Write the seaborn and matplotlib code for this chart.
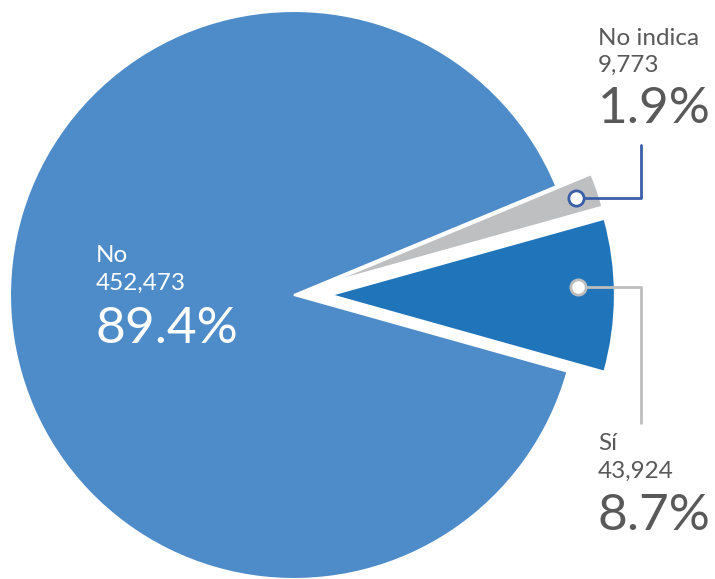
import numpy as np
import matplotlib.pyplot as plt
import seaborn as sns

sns.set_theme(style='white')
plt.rcParams['font.family'] = ['Lato', 'DejaVu Sans']

# data (order: Sí, No indica, No)
labels = ['Sí', 'No indica', 'No']
counts = [43924, 9773, 452473]
pcts = [8.7, 1.9, 89.4]
colors = ['#1f74ba', '#bebfc1', '#4d8bc9']
explode = [0.13, 0.13, 0.0]

W, H = 715, 579
cx, cy, R = 294, 295, 284  # pixel centre and radius of pie

fig = plt.figure(figsize=(W / 100, H / 100), dpi=100)
ax = fig.add_axes([0, 0, 1, 1])

start = -pcts[0] / 100 * 360 / 2
wedges, _ = ax.pie(counts, colors=colors, explode=explode, startangle=start,
                   counterclock=True, radius=1,
                   wedgeprops=dict(edgecolor='white', linewidth=1.5))

ax.set_xlim(-cx / R, (W - cx) / R)
ax.set_ylim(-(H - cy) / R, cy / R)
ax.set_aspect('equal')
ax.axis('off')


def px(x, y):
    return (x - cx) / R, (cy - y) / R


def on_wedge(w, frac, dang=0.0):
    ang = np.deg2rad((w.theta1 + w.theta2) / 2 + dang)
    x0, y0 = w.center
    return x0 + frac * w.r * np.cos(ang), y0 + frac * w.r * np.sin(ang)


grey_txt = '#595959'
xline = px(641, 0)[0]

# No indica leader
mx, my = on_wedge(wedges[1], 0.92)
ax.plot([mx, xline, xline], [my, my, px(0, 145)[1]], color='#3a5ea8', lw=2, zorder=3)
ax.plot(mx, my, 'o', ms=11, mfc='white', mec='#3a5ea8', mew=2, zorder=4)

# Sí leader
sx, sy = on_wedge(wedges[0], 0.87, 2.0)
ax.plot([sx, xline, xline], [sy, sy, px(0, 423)[1]], color='#bdbdbd', lw=2, zorder=3)
ax.plot(sx, sy, 'o', ms=11, mfc='white', mec='#bdbdbd', mew=2, zorder=4)


def label(x, ys, name, count, pct, color):
    ax.text(*px(x, ys[0]), name, color=color, fontsize=17.5, va='baseline', ha='left')
    ax.text(*px(x, ys[1]), f'{count:,}', color=color, fontsize=17.5, va='baseline', ha='left')
    ax.text(*px(x, ys[2]), f'{pct}%', color=color, fontsize=37, va='baseline', ha='left')


label(598, (45, 72, 123), labels[1], counts[1], pcts[1], grey_txt)
label(598, (450, 478, 530), labels[0], counts[0], pcts[0], grey_txt)
label(96, (262, 290, 343), labels[2], counts[2], pcts[2], 'white')

fig.savefig('out.png', dpi=100)
